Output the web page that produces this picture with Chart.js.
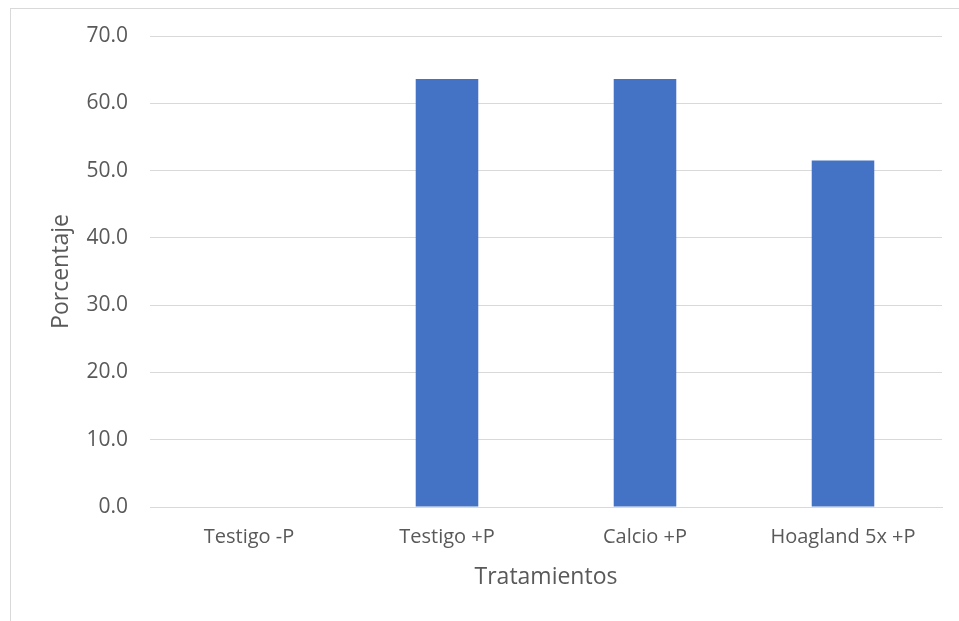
<!DOCTYPE html>
<html>
<head>
<meta charset="utf-8">
<script src="https://cdn.jsdelivr.net/npm/chart.js@4/dist/chart.umd.min.js"></script>
<style>
  html, body { margin: 0; padding: 0; background: #fff; overflow: hidden; }
  #wrap { position: relative; width: 959px; height: 621px; }
  #frame { position: absolute; left: 10px; top: 8px; width: 1000px; height: 700px;
           border: 1px solid #d9d9d9; box-sizing: border-box; }
  canvas { position: absolute; left: 0; top: 0; }
</style>
</head>
<body>
<div id="wrap">
  <div id="frame"></div>
  <canvas id="c" width="959" height="621"></canvas>
</div>
<script>
const categories = ['Testigo -P', 'Testigo +P', 'Calcio +P', 'Hoagland 5x +P'];
const porcentaje = [0, 63.6, 63.6, 51.5];
const yTicks = [0, 10, 20, 30, 40, 50, 60, 70];

const textColor = '#595959';
const gridColor = '#d9d9d9';
const fontFamily = '"Open Sans", "Liberation Sans", sans-serif';

new Chart(document.getElementById('c'), {
  type: 'bar',
  data: {
    labels: categories,
    datasets: [{
      label: 'Porcentaje',
      data: porcentaje,
      backgroundColor: '#4472C4',
      borderWidth: 0,
      categoryPercentage: 1,
      barPercentage: 0.316
    }]
  },
  options: {
    responsive: false,
    animation: false,
    devicePixelRatio: 1,
    layout: { padding: { left: 0, top: 36, right: 17, bottom: 0 } },
    plugins: { legend: { display: false }, tooltip: { enabled: false } },
    scales: {
      x: {
        grid: { display: false, drawTicks: false },
        border: { display: true, color: gridColor, width: 1 },
        ticks: { color: textColor, font: { family: fontFamily, size: 20 }, padding: 18, maxRotation: 0 },
        title: { display: true, text: 'Tratamientos', color: textColor,
                 font: { family: fontFamily, size: 23 }, padding: { top: 0, bottom: 30 } },
        afterFit: s => { s.height = 114; }
      },
      y: {
        min: 0, max: 70,
        afterBuildTicks: s => { s.ticks = yTicks.map(v => ({ value: v })); },
        grid: { color: gridColor, lineWidth: 1, drawTicks: false },
        border: { display: false },
        ticks: { color: textColor, font: { family: fontFamily, size: 21 }, padding: 22,
                 callback: v => Number(v).toFixed(1) },
        title: { display: true, text: 'Porcentaje', color: textColor,
                 font: { family: fontFamily, size: 23 }, padding: { top: 48, bottom: 0 } },
        afterFit: s => { s.width = 150; }
      }
    }
  }
});
</script>
</body>
</html>
